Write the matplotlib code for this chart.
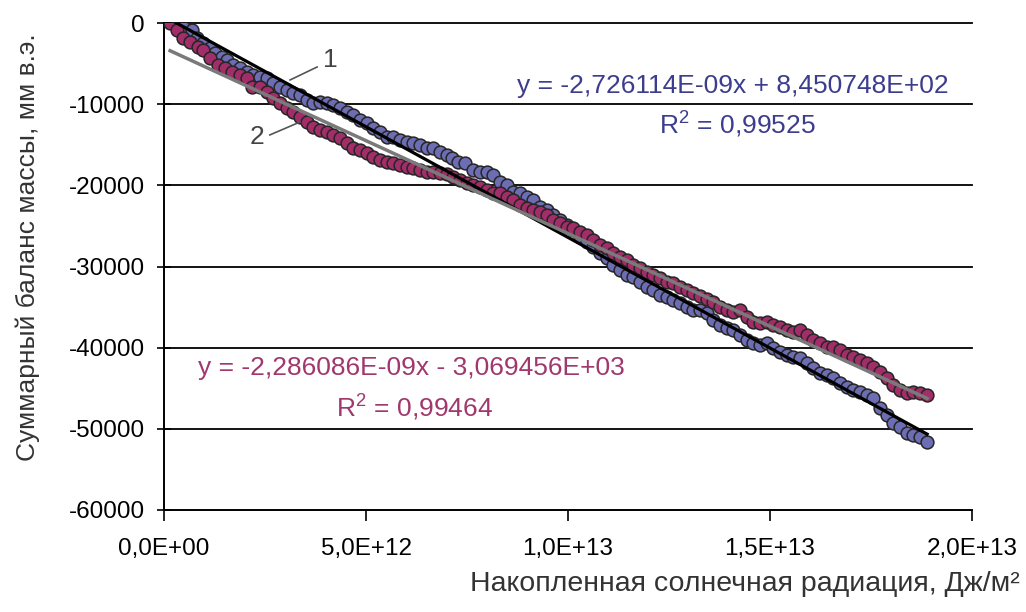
import numpy as np
import matplotlib.pyplot as plt

plt.rcParams['font.family'] = ['Liberation Sans', 'DejaVu Sans']
plt.rcParams['mathtext.fontset'] = 'custom'
plt.rcParams['mathtext.rm'] = 'Liberation Sans'

# Series 1 (blue): accumulated radiation (1e12 J/m2) vs cumulative mass balance (mm w.e.)
x1 = [0.27, 0.47, 0.69, 0.82, 0.97, 1.14, 1.26, 1.44, 1.56, 1.71, 1.88, 2.05, 2.20, 2.38,
      2.55, 2.70, 2.87, 3.04, 3.19, 3.37, 3.54, 3.69, 3.86, 4.03, 4.18, 4.36, 4.53, 4.68,
      4.85, 5.02, 5.17, 5.35, 5.52, 5.67, 5.84, 6.01, 6.16, 6.34, 6.51, 6.66, 6.83, 7.00,
      7.13, 7.28, 7.45, 7.65, 7.82, 7.99, 8.14, 8.32, 8.49, 8.64, 8.81, 8.99, 9.13, 9.31,
      9.48, 9.63, 9.80, 9.98, 10.12, 10.30, 10.47, 10.62, 10.79, 10.97, 11.11, 11.29, 11.46,
      11.61, 11.78, 11.96, 12.10, 12.28, 12.45, 12.60, 12.77, 12.95, 13.09, 13.27, 13.44,
      13.59, 13.76, 13.94, 14.08, 14.26, 14.43, 14.58, 14.75, 14.93, 15.07, 15.25, 15.42,
      15.57, 15.74, 15.92, 16.06, 16.24, 16.41, 16.56, 16.73, 16.91, 17.05, 17.23, 17.40,
      17.55, 17.72, 17.90, 18.04, 18.22, 18.39, 18.54, 18.71, 18.89]
y1 = [120, -490, -860, -1850, -2460, -3080, -3690, -4190, -4560, -5170, -5540, -6030,
      -6400, -6650, -6770, -7390, -7880, -8250, -8620, -8870, -9480, -9850, -9730, -9850,
      -10100, -10470, -10960, -11330, -11950, -12320, -12930, -13420, -14040, -14040,
      -14410, -14650, -14780, -15020, -15390, -15390, -15890, -16260, -16630, -17120,
      -17240, -18100, -18350, -18350, -18720, -19580, -19950, -20810, -20940, -21430,
      -21800, -22660, -23030, -23640, -24260, -24880, -25490, -26350, -26970, -27590,
      -28320, -28940, -29800, -30420, -31030, -31280, -31900, -32510, -32880, -33500,
      -33740, -34110, -34480, -34970, -35340, -35400, -35710, -36580, -37190, -37560,
      -37810, -38420, -39040, -39410, -39650, -39410, -40020, -40520, -40880, -41130,
      -41260, -41870, -42490, -43100, -43350, -43720, -44330, -44830, -45200, -45440,
      -45810, -46180, -47410, -48270, -49260, -49750, -50490, -50740, -50980, -51600]

# Series 2 (magenta)
x2 = [0.15, 0.32, 0.47, 0.64, 0.84, 0.97, 1.14, 1.34, 1.51, 1.68, 1.88, 2.05, 2.18, 2.38,
      2.55, 2.70, 2.87, 3.04, 3.19, 3.37, 3.54, 3.69, 3.86, 4.03, 4.18, 4.36, 4.53, 4.68,
      4.85, 5.02, 5.17, 5.35, 5.52, 5.67, 5.84, 6.01, 6.16, 6.34, 6.51, 6.66, 6.83, 7.00,
      7.15, 7.33, 7.50, 7.65, 7.82, 7.99, 8.14, 8.32, 8.49, 8.64, 8.81, 8.99, 9.13, 9.31,
      9.48, 9.63, 9.80, 9.98, 10.12, 10.30, 10.47, 10.62, 10.79, 10.97, 11.11, 11.29, 11.46,
      11.61, 11.78, 11.96, 12.10, 12.28, 12.45, 12.60, 12.77, 12.95, 13.09, 13.27, 13.44,
      13.59, 13.76, 13.94, 14.08, 14.26, 14.43, 14.58, 14.75, 14.93, 15.07, 15.25, 15.42,
      15.57, 15.74, 15.92, 16.06, 16.24, 16.41, 16.56, 16.73, 16.91, 17.05, 17.23, 17.40,
      17.55, 17.72, 17.90, 18.04, 18.22, 18.39, 18.54, 18.71, 18.89]
y2 = [0, -860, -1850, -2340, -2960, -3330, -4310, -5170, -5540, -6030, -6400, -6770,
      -7880, -7880, -8500, -9240, -9850, -10470, -10960, -11580, -12190, -12810, -13180,
      -13420, -13790, -14160, -14780, -15390, -15640, -16010, -16500, -16870, -17120,
      -17240, -17490, -17730, -17860, -18100, -18350, -18350, -18470, -18600, -18970,
      -19330, -19700, -19950, -20200, -20570, -20940, -20940, -21430, -21800, -22410,
      -22780, -23030, -23280, -23640, -24260, -24630, -25120, -25250, -25740, -26110,
      -26720, -27340, -27710, -28320, -28820, -29190, -29800, -30170, -30660, -31030,
      -31400, -31900, -32020, -32510, -32880, -33250, -33620, -33990, -34360, -34970,
      -35340, -35590, -35340, -36210, -36820, -36950, -36820, -37190, -37440, -37810,
      -38050, -37810, -38420, -39040, -39410, -39900, -39900, -40270, -40880, -41130,
      -41500, -41870, -42360, -42980, -43720, -44580, -45200, -45570, -45440, -45570, -45810]

# trend line coefficients as printed on the chart
k1, b1 = -2.726114e-09, 8.450748e+02
k2, b2 = -2.286086e-09, -3.069456e+03

xticks = [0, 5e12, 1e13, 1.5e13, 2e13]
xtick_labels = ['0,0E+00', '5,0E+12', '1,0E+13', '1,5E+13', '2,0E+13']
yticks = [0, -10000, -20000, -30000, -40000, -50000, -60000]
ytick_labels = ['0', '-10000', '-20000', '-30000', '-40000', '-50000', '-60000']

W, H = 1026, 612
fig = plt.figure(figsize=(W / 100, H / 100), dpi=100)
ax = fig.add_axes([164 / W, 1 - 510 / H, (972 - 164) / W, (510 - 23) / H])

X1 = np.array(x1) * 1e12
X2 = np.array(x2) * 1e12

blue = '#6D6DB3'
mag = '#A12E68'
ax.plot(X1, y1, 'o', ms=9.2, mfc=blue, mec='#262626', mew=1.1, zorder=3)
ax.plot(X2, y2, 'o', ms=9.2, mfc=mag, mec='#262626', mew=1.1, zorder=3)

xl1 = np.array([X1.min(), X1.max()])
xl2 = np.array([X2.min(), X2.max()])
ax.plot(xl1, k1 * xl1 + b1, color='black', lw=2.3, zorder=4)
ax.plot(xl2, k2 * xl2 + b2, color='#7a7a7a', lw=2.5, zorder=4)

ax.set_xlim(0, 2e13)
ax.set_ylim(-60000, 0)
ax.set_xticks(xticks)
ax.set_xticklabels(xtick_labels)
ax.set_yticks(yticks)
ax.set_yticklabels(ytick_labels)
ax.tick_params(axis='x', direction='out', length=8, width=1.2, pad=12, labelsize=17.5)
ax.tick_params(axis='y', direction='inout', length=10, width=1.2, pad=9, labelsize=17.5)
for y in yticks[:-1]:
    ax.axhline(y, color='black', lw=1.3, zorder=1, clip_on=False)
for s in ['top', 'right']:
    ax.spines[s].set_visible(False)
for s in ['left', 'bottom']:
    ax.spines[s].set_linewidth(1.4)

# labels "1" and "2"
ax.plot([3.12e12, 3.79e12], [-7020, -5420], color='#555555', lw=1.2, zorder=5)
ax.text(4.11e12, -4560, '1', fontsize=19, color='#444444', ha='center', va='center')
ax.plot([2.62e12, 3.37e12], [-13790, -12190], color='#555555', lw=1.2, zorder=5)
ax.text(2.30e12, -14040, '2', fontsize=19, color='#444444', ha='center', va='center')

# equations
fig.text(733 / W, 1 - 86 / H, 'y = -2,726114E-09x + 8,450748E+02', fontsize=19,
         color='#3D3D8E', ha='center', va='center')
fig.text(737 / W, 1 - 124 / H, r'R$^{\mathrm{2}}$ = 0,99525', fontsize=19,
         color='#3D3D8E', ha='center', va='center')
fig.text(411 / W, 1 - 368 / H, 'y = -2,286086E-09x - 3,069456E+03', fontsize=19,
         color='#A0386E', ha='center', va='center')
fig.text(414 / W, 1 - 407 / H, r'R$^{\mathrm{2}}$ = 0,99464', fontsize=19,
         color='#A0386E', ha='center', va='center')

fig.text(28 / W, 1 - 247 / H, 'Суммарный баланс массы, мм в.э.', fontsize=19,
         color='#333333', rotation=90, ha='center', va='center')
fig.text(1020 / W, 1 - 584 / H, 'Накопленная солнечная радиация, Дж/м²', fontsize=20.5,
         color='#333333', ha='right', va='center')

fig.savefig('out.png', dpi=100)
